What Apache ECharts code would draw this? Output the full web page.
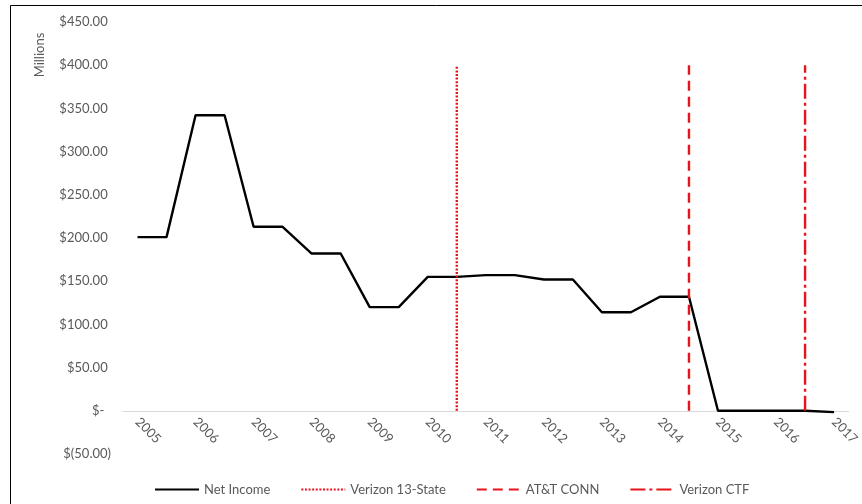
<!DOCTYPE html>
<html>
<head>
<meta charset="utf-8">
<script src="https://cdn.jsdelivr.net/npm/echarts@6/dist/echarts.min.js"></script>
<style>
html,body{margin:0;padding:0;background:#fff;}
#chart{width:862px;height:504px;}
</style>
</head>
<body>
<div id="chart"></div>
<script>
// Half-year periods (labels shown for whole years only)
const periods = ['2005','2005.5','2006','2006.5','2007','2007.5','2008','2008.5','2009','2009.5',
  '2010','2010.5','2011','2011.5','2012','2012.5','2013','2013.5','2014','2014.5',
  '2015','2015.5','2016','2016.5','2017'];
// Net income, $ millions
const netIncome = [201, 201, 342, 342, 213, 213, 182, 182, 120, 120,
  155, 155, 157, 157, 152, 152, 114, 114, 132, 132,
  0, 0, 0, 0, -1.5];
// Event markers
const eventNames = ['Verizon 13-State', 'AT&T CONN', 'Verizon CTF'];
const eventPeriods = ['2010.5', '2014.5', '2016.5'];
const eventTop = [400, 400, 400];
// Y axis
const yMin = -50, yMax = 450, yStep = 50;

const font = 'Lato, "Open Sans", sans-serif';
const gray = '#595959';
const red = '#e8141c';
const dashes = [[2, 1.6], [10, 6], [15, 4, 3, 4]];

const gridTop = 22, gridBottom = 50, chartH = 504;
const plotH = chartH - gridTop - gridBottom;
const zeroOffset = plotH * (0 - yMin) / (yMax - yMin);

function money(v) {
  if (v === 0) return '$-  ';
  if (v < 0) return '$(' + Math.abs(v).toFixed(2) + ')';
  return '$' + v.toFixed(2) + ' ';
}

const chart = echarts.init(document.getElementById('chart'), null, {renderer: 'canvas'});

const series = [{
  name: 'Net Income',
  type: 'line',
  data: netIncome,
  symbol: 'none',
  lineStyle: {color: '#000', width: 2.4},
  itemStyle: {color: '#000'},
  z: 2
}];
eventNames.forEach((n, i) => {
  series.push({
    name: n,
    type: 'line',
    data: [[eventPeriods[i], 0], [eventPeriods[i], eventTop[i]]],
    symbol: 'none',
    lineStyle: {color: red, width: 2.4, type: dashes[i], cap: 'butt'},
    itemStyle: {color: red},
    z: 3
  });
});

chart.setOption({
  animation: false,
  backgroundColor: '#fff',
  textStyle: {fontFamily: font},
  grid: {left: 123, right: 7, top: gridTop, bottom: gridBottom, containLabel: false},
  legend: {
    data: ['Net Income'].concat(eventNames),
    left: 149,
    top: 478,
    itemWidth: 44,
    itemHeight: 14,
    itemGap: 30,
    itemStyle: {opacity: 0},
    textStyle: {color: gray, fontSize: 13, fontFamily: font}
  },
  xAxis: {
    type: 'category',
    data: periods,
    boundaryGap: true,
    offset: -zeroOffset,
    axisLine: {show: true, onZero: false, lineStyle: {color: '#d9d9d9', width: 1}},
    axisTick: {show: false},
    axisLabel: {interval: 1, rotate: -45, color: gray, fontSize: 13, margin: 9, fontFamily: font},
    splitLine: {show: false}
  },
  yAxis: {
    type: 'value',
    min: yMin, max: yMax, interval: yStep,
    axisLine: {show: false},
    axisTick: {show: false},
    splitLine: {show: false},
    axisLabel: {formatter: money, color: gray, fontSize: 13, margin: 12, fontFamily: font}
  },
  graphic: [
    {type: 'rect', shape: {x: 10.5, y: 5.5, width: 900, height: 600}, style: {fill: 'none', stroke: '#000', lineWidth: 1}, silent: true},
    {type: 'text', x: 40, y: 55, rotation: Math.PI / 2,
     style: {text: 'Millions', fill: gray, font: '13px ' + font, align: 'center', verticalAlign: 'middle'}}
  ],
  series: series
});
</script>
</body>
</html>
